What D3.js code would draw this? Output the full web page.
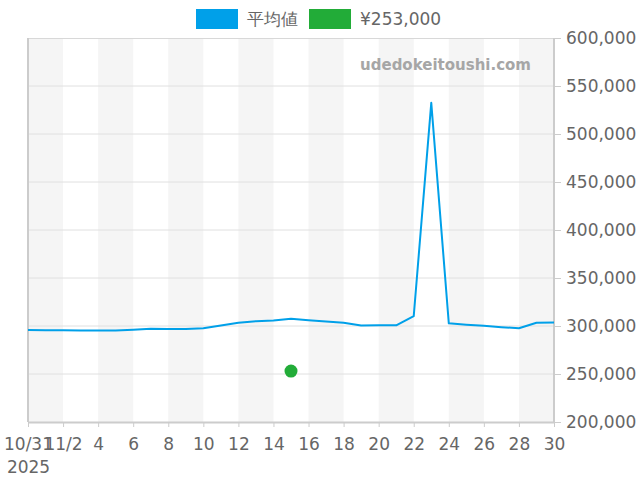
<!DOCTYPE html>
<html><head><meta charset="utf-8">
<script src="https://cdn.jsdelivr.net/npm/d3@7"></script>
<style>body{margin:0;background:#fff}svg{display:block}text{font-family:"DejaVu Sans",sans-serif}</style>
</head><body><svg id="c" width="640" height="480"></svg>
<script>
const dates = ["2025-10-31","2025-11-01","2025-11-02","2025-11-03","2025-11-04","2025-11-05","2025-11-06","2025-11-07","2025-11-08","2025-11-09","2025-11-10","2025-11-11","2025-11-12","2025-11-13","2025-11-14","2025-11-15","2025-11-16","2025-11-17","2025-11-18","2025-11-19","2025-11-20","2025-11-21","2025-11-22","2025-11-23","2025-11-24","2025-11-25","2025-11-26","2025-11-27","2025-11-28","2025-11-29","2025-11-30"];
const avgValues = [295800,295600,295500,295400,295400,295200,296000,297100,297000,296800,297600,300600,303400,305000,305800,307600,306000,304600,303500,300500,300800,300700,310300,532500,302800,301400,300200,298800,297700,303400,303700];
const pointDate = ["2025-11-15"];
const pointValue = [253000];
const xTickDates = ["2025-10-31","2025-11-02","2025-11-04","2025-11-06","2025-11-08","2025-11-10","2025-11-12","2025-11-14","2025-11-16","2025-11-18","2025-11-20","2025-11-22","2025-11-24","2025-11-26","2025-11-28","2025-11-30"];
const xTickLabels = ["10/31","11/2","4","6","8","10","12","14","16","18","20","22","24","26","28","30"];
const yTicks = [200000,250000,300000,350000,400000,450000,500000,550000,600000];
const bandStarts = ["2025-10-31","2025-11-04","2025-11-08","2025-11-12","2025-11-16","2025-11-20","2025-11-24","2025-11-28"];
const legendLabels = ["平均値","¥253,000"];

const parse = d3.timeParse("%Y-%m-%d");
const svg = d3.select("#c");
const L=28,R=554,T=38,B=422;
const x = d3.scaleTime().domain([parse(dates[0]), parse(dates[dates.length-1])]).range([L,R]);
const y = d3.scaleLinear().domain([200000,600000]).range([B,T]);
const blue="#00a0e9", green="#22ac38", txt="#666";

// bands
svg.append("g").selectAll("rect").data(bandStarts).join("rect")
  .attr("x", d=>x(parse(d)))
  .attr("width", d=>x(d3.timeDay.offset(parse(d),2))-x(parse(d)))
  .attr("y",T).attr("height",B-T).attr("fill","#f5f5f5");

// grid
svg.append("g").selectAll("line").data(yTicks.slice(1,-1)).join("line")
  .attr("x1",L).attr("x2",R).attr("y1",d=>y(d)).attr("y2",d=>y(d))
  .attr("stroke","#e0e0e0").attr("stroke-width",1);

// borders
svg.append("line").attr("x1",L).attr("x2",R).attr("y1",T+0.5).attr("y2",T+0.5).attr("stroke","#d8d8d8");
svg.append("line").attr("x1",L).attr("x2",L).attr("y1",T).attr("y2",B).attr("stroke","#ccc").attr("stroke-width",2);
svg.append("line").attr("x1",R).attr("x2",R).attr("y1",T).attr("y2",B).attr("stroke","#ccc").attr("stroke-width",2);

// watermark
svg.append("text").attr("x",531).attr("y",70).attr("text-anchor","end")
  .attr("font-size",15).attr("font-weight","bold").attr("fill","#a6a6a6").text("udedokeitoushi.com");

// line
const line = d3.line().x((d,i)=>x(parse(dates[i]))).y(d=>y(d));
svg.append("path").datum(avgValues).attr("d",line).attr("fill","none")
  .attr("stroke",blue).attr("stroke-width",2).attr("stroke-linejoin","round");

// point
svg.append("g").selectAll("circle").data(pointValue).join("circle")
  .attr("cx",(d,i)=>x(parse(pointDate[i]))).attr("cy",d=>y(d)).attr("r",6.5).attr("fill",green);

// x axis
const xAxis = d3.axisBottom(x).tickValues(xTickDates.map(parse))
  .tickFormat((d,i)=>xTickLabels[i]).tickSize(5).tickSizeOuter(0).tickPadding(11);
const gx = svg.append("g").attr("transform",`translate(0,${B})`).call(xAxis);
gx.select(".domain").attr("stroke","#ccc").attr("stroke-width",2);
gx.selectAll(".tick line").attr("stroke","#ccc");
gx.selectAll(".tick text").attr("fill",txt).attr("font-size",17).attr("font-family","DejaVu Sans");
gx.select(".tick text").append("tspan").attr("x",0).attr("dy","1.33em").text("2025");

// y axis
const yAxis = d3.axisRight(y).tickValues(yTicks).tickFormat(d3.format(",")).tickSize(7).tickSizeOuter(0).tickPadding(5);
const gy = svg.append("g").attr("transform",`translate(${R},0)`).call(yAxis);
gy.select(".domain").remove();
gy.selectAll(".tick line").attr("stroke","#ccc");
gy.selectAll(".tick text").attr("fill",txt).attr("font-size",17).attr("font-family","DejaVu Sans");

// legend
const legX=[196,309], legColors=[blue,green];
const lg = svg.append("g").selectAll("g").data(legendLabels).join("g");
lg.append("rect").attr("x",(d,i)=>legX[i]).attr("y",9).attr("width",42).attr("height",20).attr("fill",(d,i)=>legColors[i]);
lg.append("text").attr("x",(d,i)=>legX[i]+51).attr("y",19).attr("dy","0.35em")
  .attr("font-size",17).attr("fill",txt).text(d=>d);
</script></body></html>
